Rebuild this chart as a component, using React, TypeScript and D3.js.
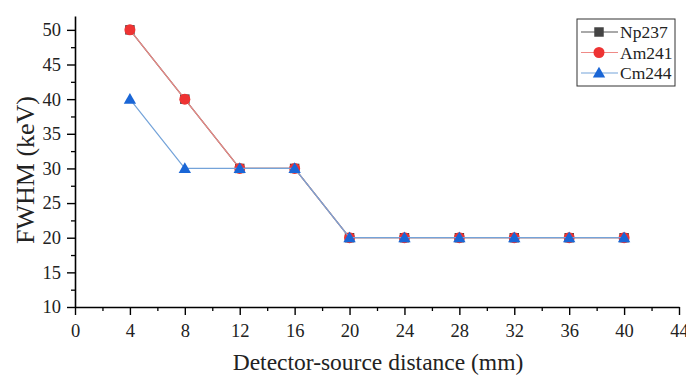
// App.tsx
import React, { useEffect, useRef } from "react";
import * as d3 from "d3";

const distances = [4, 8, 12, 16, 20, 24, 28, 32, 36, 40];
const np237 = [50, 40, 30, 30, 20, 20, 20, 20, 20, 20];
const am241 = [50, 40, 30, 30, 20, 20, 20, 20, 20, 20];
const cm244 = [40, 30, 30, 30, 20, 20, 20, 20, 20, 20];
const xTicks = [0, 4, 8, 12, 16, 20, 24, 28, 32, 36, 40, 44];
const yTicks = [10, 15, 20, 25, 30, 35, 40, 45, 50];

const series = [
  { name: "Np237", values: np237, line: "#555555", fill: "#444444", shape: d3.symbolSquare, size: 90 },
  { name: "Am241", values: am241, line: "#ef8a86", fill: "#ee3333", shape: d3.symbolCircle, size: 95 },
  { name: "Cm244", values: cm244, line: "#74a3d9", fill: "#1a66d6", shape: d3.symbolTriangle, size: 66 },
];

const App = () => {
  const ref = useRef<SVGSVGElement>(null);

  useEffect(() => {
    const svg = d3.select(ref.current);
    svg.selectAll("*").remove();

    const font = "Liberation Serif, Times New Roman, serif";
    const x = d3.scaleLinear().domain([0, 44]).range([75, 679]);
    const y = d3.scaleLinear().domain([10, 52]).range([307, 16]);

    // minor ticks
    const xMinor = d3.range(2, 44, 4);
    const yMinor = d3.range(12.5, 52, 5);

    const xAxis = svg
      .append("g")
      .attr("transform", `translate(0,${y(10)})`)
      .call(d3.axisBottom(x).tickValues(xTicks).tickSize(8).tickSizeOuter(0).tickPadding(9).tickFormat(d3.format("d")));
    xAxis.attr("font-family", font).attr("font-size", 18.5);
    xAxis.select(".domain").attr("stroke", "#000").attr("stroke-width", 1.6);
    xAxis.selectAll("text").attr("fill", "#222");
    xAxis.selectAll("line").attr("stroke-width", 1.4);

    svg
      .append("g")
      .attr("transform", `translate(0,${y(10)})`)
      .call(d3.axisBottom(x).tickValues(xMinor).tickSize(4).tickFormat(() => ""))
      .call((g) => g.select(".domain").remove())
      .selectAll("line")
      .attr("stroke-width", 1.3);

    const yAxis = svg
      .append("g")
      .attr("transform", `translate(${x(0)},0)`)
      .call(d3.axisLeft(y).tickValues(yTicks).tickSize(8).tickSizeOuter(0).tickPadding(6));
    yAxis.attr("font-family", font).attr("font-size", 18.5);
    yAxis.select(".domain").attr("stroke", "#000").attr("stroke-width", 1.6);
    yAxis.selectAll("text").attr("fill", "#222");
    yAxis.selectAll("line").attr("stroke-width", 1.4);

    svg
      .append("g")
      .attr("transform", `translate(${x(0)},0)`)
      .call(d3.axisLeft(y).tickValues(yMinor).tickSize(4).tickFormat(() => ""))
      .call((g) => g.select(".domain").remove())
      .selectAll("line")
      .attr("stroke-width", 1.3);

    // axis titles
    svg
      .append("text")
      .attr("x", 378)
      .attr("y", 370)
      .attr("text-anchor", "middle")
      .attr("font-family", font)
      .attr("font-size", 23.5)
      .attr("fill", "#222")
      .text("Detector-source distance (mm)");

    svg
      .append("text")
      .attr("transform", `translate(34,170) rotate(-90)`)
      .attr("text-anchor", "middle")
      .attr("font-family", font)
      .attr("font-size", 26)
      .attr("fill", "#222")
      .text("FWHM (keV)");

    const line = d3
      .line<number>()
      .x((_, i) => x(distances[i]))
      .y((d) => y(d));

    series.forEach((s) => {
      svg
        .append("path")
        .datum(s.values)
        .attr("d", line)
        .attr("fill", "none")
        .attr("stroke", s.line)
        .attr("stroke-width", 1.2);

      svg
        .append("g")
        .selectAll("path")
        .data(s.values)
        .enter()
        .append("path")
        .attr("transform", (d, i) => `translate(${x(distances[i])},${y(d) + (s.shape === d3.symbolTriangle ? 1 : 0)})`)
        .attr("d", d3.symbol().type(s.shape).size(s.size)())
        .attr("fill", s.fill);
    });

    // legend
    const legend = svg.append("g").attr("transform", "translate(577,19)");
    legend
      .append("rect")
      .attr("width", 98)
      .attr("height", 67)
      .attr("fill", "#fff")
      .attr("stroke", "#333")
      .attr("stroke-width", 1);

    series.forEach((s, i) => {
      const cy = 13 + i * 20.5;
      legend
        .append("line")
        .attr("x1", 4)
        .attr("x2", 41)
        .attr("y1", cy)
        .attr("y2", cy)
        .attr("stroke", s.line)
        .attr("stroke-width", 1.2);
      legend
        .append("path")
        .attr("transform", `translate(22,${cy + (s.shape === d3.symbolTriangle ? 1 : 0)})`)
        .attr("d", d3.symbol().type(s.shape).size(s.size)())
        .attr("fill", s.fill);
      legend
        .append("text")
        .attr("x", 43)
        .attr("y", cy)
        .attr("dy", "0.35em")
        .attr("font-family", font)
        .attr("font-size", 17.5)
        .attr("fill", "#222")
        .text(s.name);
    });
  }, []);

  return <svg ref={ref} width={686} height={376} style={{ position: "absolute", left: 0, top: 0, background: "#fff" }} />;
};

export default App;
